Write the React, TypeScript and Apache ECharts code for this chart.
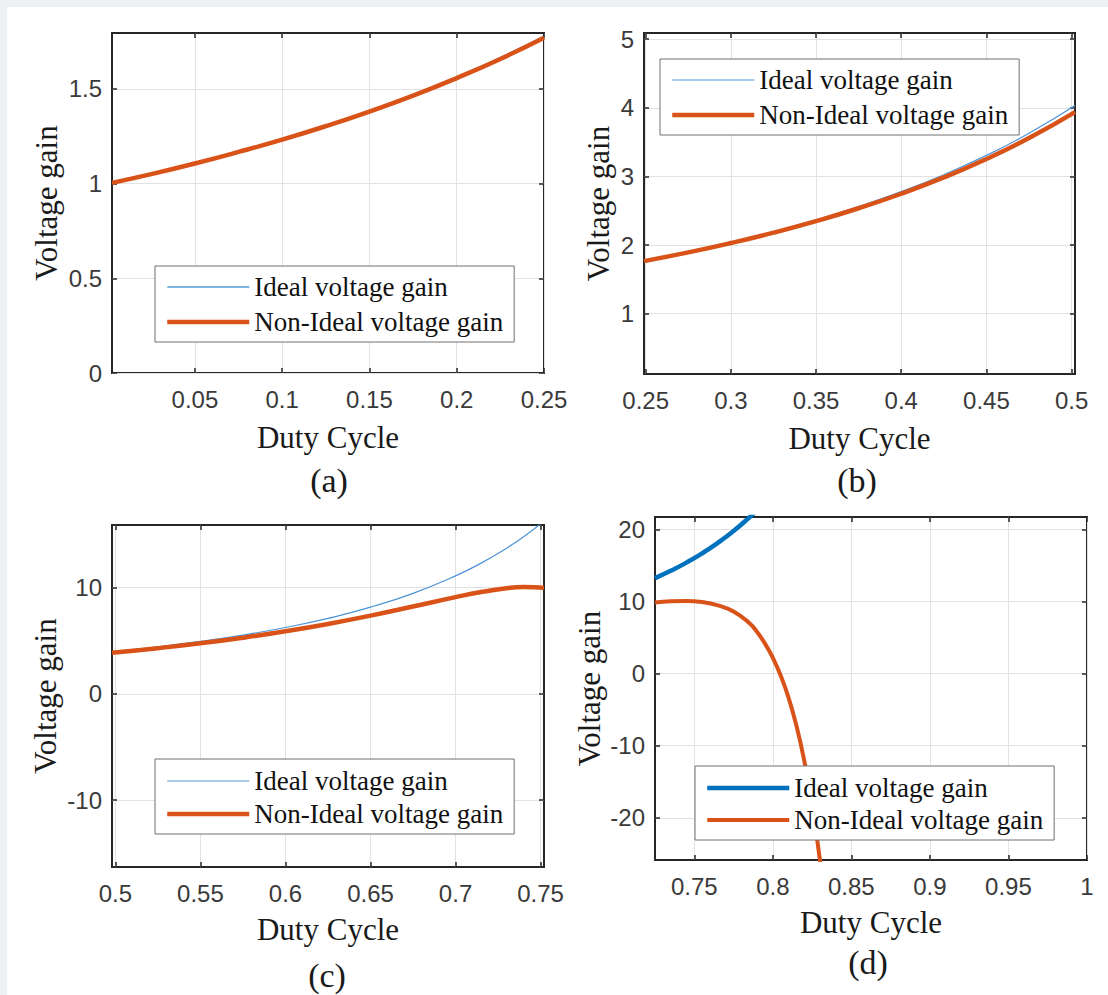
import React, { useEffect, useRef } from "react";
import * as echarts from "echarts";

const IDEAL = "Ideal voltage gain";
const NONIDEAL = "Non-Ideal voltage gain";

// (a) duty cycle 0 - 0.25
const dutyA = [0.0025, 0.025, 0.05, 0.075, 0.1, 0.125, 0.15, 0.175, 0.2, 0.225, 0.25];
const idealA = [1.005, 1.052, 1.108, 1.169, 1.235, 1.306, 1.384, 1.469, 1.563, 1.665, 1.778];
const nonIdealA = [1.004, 1.05, 1.106, 1.167, 1.232, 1.303, 1.38, 1.464, 1.557, 1.658, 1.77];

// (b) duty cycle 0.25 - 0.5
const dutyB = [0.249, 0.275, 0.3, 0.325, 0.35, 0.375, 0.4, 0.425, 0.45, 0.475, 0.502];
const idealB = [1.773, 1.902, 2.041, 2.195, 2.367, 2.56, 2.778, 3.025, 3.306, 3.628, 4.032];
const nonIdealB = [1.765, 1.892, 2.029, 2.18, 2.348, 2.536, 2.747, 2.985, 3.253, 3.558, 3.936];

// (c) duty cycle 0.5 - 0.75
const dutyC = [0.498, 0.525, 0.55, 0.575, 0.6, 0.625, 0.65, 0.675, 0.7, 0.715, 0.73, 0.74, 0.752];
const idealC = [3.968, 4.432, 4.938, 5.536, 6.25, 7.111, 8.163, 9.467, 11.111, 12.311, 13.717, 14.793, 16.259];
const nonIdealC = [3.877, 4.305, 4.762, 5.288, 5.894, 6.586, 7.369, 8.228, 9.108, 9.587, 9.949, 10.067, 9.984];

// (d) duty cycle 0.725 - 1
const dutyD = [0.725, 0.735, 0.745, 0.755, 0.765, 0.775, 0.785, 0.79, 0.795, 0.8, 0.805, 0.81, 0.815, 0.82, 0.825, 0.83, 0.835];
const idealD = [13.223, 14.24, 15.379, 16.66, 18.108, 19.753, 21.633, 22.676, 23.795, 25.0, 26.298, 27.701, 29.218, 30.864, 32.653, 34.602, 36.731];
const nonIdealD = [9.85, 10.02, 10.07, 9.91, 9.44, 8.6, 7.0, 5.75, 4.15, 2.19, -0.26, -3.33, -7.2, -12.06, -18.18, -25.89, -35.62];

// tick values
const xTicksA = [0.05, 0.1, 0.15, 0.2, 0.25];
const yTicksA = [0, 0.5, 1, 1.5];
const xTicksB = [0.25, 0.3, 0.35, 0.4, 0.45, 0.5];
const yTicksB = [1, 2, 3, 4, 5];
const xTicksC = [0.5, 0.55, 0.6, 0.65, 0.7, 0.75];
const yTicksC = [-10, 0, 10];
const xTicksD = [0.75, 0.8, 0.85, 0.9, 0.95, 1];
const yTicksD = [-20, -10, 0, 10, 20];

const panelLabels = ["(a)", "(b)", "(c)", "(d)"];

const SERIF = "'Liberation Serif', 'Times New Roman', serif";
const SANS = "'Liberation Sans', Arial, sans-serif";
const BLUE = "#0072BD";
const THIN_BLUE = "#4d94d6";
const ORANGE = "#D95319";
const CLEAR = "rgba(0,0,0,0)";

const pairs = (xs: number[], ys: number[]) => xs.map((x, i) => [x, ys[i]]);

const tickStyle = (ticks: number[]) => ({
  show: true,
  inside: true,
  length: 5,
  customValues: ticks,
  lineStyle: { color: "#262626", width: 1.5 },
});

function xAxes(grid: number, min: number, max: number, ticks: number[], nameGap: number) {
  return [
    {
      type: "value",
      gridIndex: grid,
      min,
      max,
      position: "bottom",
      name: "Duty Cycle",
      nameLocation: "middle",
      nameGap,
      nameTextStyle: { fontFamily: SERIF, fontSize: 31, color: "#1a1a1a" },
      axisLine: { show: false, onZero: false },
      axisTick: tickStyle(ticks),
      axisLabel: { customValues: ticks, margin: 14, fontFamily: SANS, fontSize: 24, color: "#3a3a3a" },
      splitLine: { show: true, lineStyle: { color: "#e2e2e2", width: 1 } },
    },
    {
      type: "value",
      gridIndex: grid,
      min,
      max,
      position: "top",
      axisLine: { show: false, onZero: false },
      axisTick: tickStyle(ticks),
      axisLabel: { show: false },
      splitLine: { show: false },
    },
  ];
}

function yAxes(grid: number, min: number, max: number, ticks: number[], nameGap: number) {
  return [
    {
      type: "value",
      gridIndex: grid,
      min,
      max,
      position: "left",
      name: "Voltage gain",
      nameLocation: "middle",
      nameGap,
      nameRotate: 90,
      nameTextStyle: { fontFamily: SERIF, fontSize: 31, color: "#1a1a1a" },
      axisLine: { show: false, onZero: false },
      axisTick: tickStyle(ticks),
      axisLabel: { customValues: ticks, margin: 10, fontFamily: SANS, fontSize: 24, color: "#3a3a3a" },
      splitLine: { show: true, lineStyle: { color: "#e2e2e2", width: 1 } },
    },
    {
      type: "value",
      gridIndex: grid,
      min,
      max,
      position: "right",
      axisLine: { show: false, onZero: false },
      axisTick: tickStyle(ticks),
      axisLabel: { show: false },
      splitLine: { show: false },
    },
  ];
}

function series(
  grid: number,
  xs: number[],
  ideal: number[],
  nonIdeal: number[],
  idealColor: string,
  idealWidth: number,
  nonWidth: number
) {
  const base = {
    type: "line",
    xAxisIndex: grid * 2,
    yAxisIndex: grid * 2,
    symbol: "none",
    showSymbol: false,
    smooth: true,
    clip: true,
  };
  return [
    { ...base, name: IDEAL, data: pairs(xs, ideal), lineStyle: { color: idealColor, width: idealWidth }, itemStyle: { color: idealColor }, z: 2 },
    { ...base, name: NONIDEAL, data: pairs(xs, nonIdeal), lineStyle: { color: ORANGE, width: nonWidth }, itemStyle: { color: ORANGE }, z: 3 },
  ];
}

const hiddenSymbol = { color: CLEAR, borderColor: CLEAR, borderWidth: 0, opacity: 0 };

function legend(
  left: number,
  top: number,
  padding: number[],
  itemGap: number,
  idealColor: string,
  idealWidth: number,
  nonWidth: number
) {
  return {
    orient: "vertical",
    left,
    top,
    padding,
    itemGap,
    itemWidth: 82,
    itemHeight: 14,
    selectedMode: false,
    backgroundColor: "#ffffff",
    borderColor: "#707070",
    borderWidth: 1,
    borderRadius: 0,
    itemStyle: hiddenSymbol,
    textStyle: { fontFamily: SERIF, fontSize: 27, color: "#111111", lineHeight: 30 },
    data: [
      { name: IDEAL, lineStyle: { color: idealColor, width: idealWidth, opacity: 1 }, itemStyle: hiddenSymbol },
      { name: NONIDEAL, lineStyle: { color: ORANGE, width: nonWidth, opacity: 1 }, itemStyle: hiddenSymbol },
    ],
  };
}

const gridBase = {
  show: true,
  backgroundColor: "#ffffff",
  borderColor: "#262626",
  borderWidth: 2,
  containLabel: false,
};

export default function App() {
  const ref = useRef<HTMLDivElement>(null);

  useEffect(() => {
    if (!ref.current) return;
    const chart = echarts.init(ref.current, undefined, { renderer: "svg" });
    const labelPos = [
      [329, 480],
      [857, 480],
      [327, 975],
      [868, 962],
    ];
    chart.setOption({
      animation: false,
      grid: [
        { ...gridBase, left: 112, top: 33, width: 432, height: 340 },
        { ...gridBase, left: 644, top: 33, width: 431, height: 341 },
        { ...gridBase, left: 112, top: 525, width: 432, height: 342 },
        { ...gridBase, left: 655, top: 517, width: 432, height: 343 },
      ],
      xAxis: [
        ...xAxes(0, 0.0025, 0.25, xTicksA, 49),
        ...xAxes(1, 0.249, 0.502, xTicksB, 49),
        ...xAxes(2, 0.498, 0.752, xTicksC, 47),
        ...xAxes(3, 0.725, 1, xTicksD, 47),
      ],
      yAxis: [
        ...yAxes(0, 0, 1.795, yTicksA, 50),
        ...yAxes(1, 0.12, 5.09, yTicksB, 30),
        ...yAxes(2, -16.3, 15.9, yTicksC, 51),
        ...yAxes(3, -25.85, 21.7, yTicksD, 50),
      ],
      legend: [
        legend(155, 266, [6, 11, 5, 10], 5, BLUE, 1.2, 4.5),
        legend(660, 59, [6, 11, 5, 10], 5, THIN_BLUE, 1.2, 4.5),
        legend(155, 759, [7, 11, 5, 10], 3, THIN_BLUE, 1.2, 4.5),
        legend(695, 766, [7, 11, 5, 10], 2, BLUE, 4.5, 4),
      ],
      series: [
        ...series(0, dutyA, idealA, nonIdealA, BLUE, 1.2, 4.5),
        ...series(1, dutyB, idealB, nonIdealB, THIN_BLUE, 1.2, 4.5),
        ...series(2, dutyC, idealC, nonIdealC, THIN_BLUE, 1.2, 4.5),
        ...series(3, dutyD, idealD, nonIdealD, BLUE, 4.5, 4),
      ],
      graphic: panelLabels.map((t, i) => ({
        type: "text",
        x: labelPos[i][0],
        y: labelPos[i][1],
        style: {
          text: t,
          fontFamily: SERIF,
          fontSize: 34,
          fill: "#1a1a1a",
          textAlign: "center",
          textVerticalAlign: "middle",
        },
      })),
    });
    return () => chart.dispose();
  }, []);

  return (
    <div style={{ position: "absolute", left: 0, top: 0, width: 1108, height: 995, background: "#eef0f2" }}>
      <div style={{ position: "absolute", left: 7, top: 7, right: 0, bottom: 0, background: "#ffffff" }} />
      <div ref={ref} style={{ position: "absolute", left: 0, top: 0, width: 1108, height: 995 }} />
    </div>
  );
}
